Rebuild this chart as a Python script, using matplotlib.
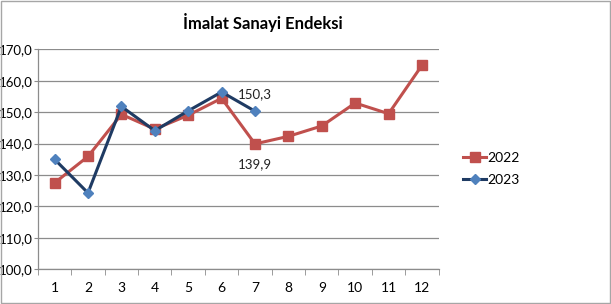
import matplotlib
matplotlib.use("Agg")
import matplotlib.pyplot as plt
from matplotlib.patches import Rectangle
from matplotlib.ticker import FuncFormatter, FixedLocator

months = list(range(1, 13))
values_2022 = [127.5, 135.9, 149.3, 144.6, 149.0, 154.4, 139.9, 142.3, 145.6, 152.9, 149.5, 164.9]
months_2023 = list(range(1, 8))
values_2023 = [135.0, 124.3, 151.8, 144.1, 150.4, 156.4, 150.3]
title = "İmalat Sanayi Endeksi"

plt.rcParams["font.family"] = ["Lato", "DejaVu Sans"]

red = "#C0504D"
navy = "#1F3B63"
blue = "#4F81BD"
grid = "#8C8C8C"

fig = plt.figure(figsize=(6.11, 3.04), dpi=100)
fig.patch.set_facecolor("white")
fig.patches.append(Rectangle((0.001, 0.002), 0.997, 0.995, transform=fig.transFigure,
                             fill=False, edgecolor="#A6A6A6", linewidth=1.0))
ax = fig.add_axes([0.062, 0.114, 0.656, 0.724])

ax.plot(months, values_2022, color=red, linewidth=2.2, marker="s", markersize=6.5,
        markerfacecolor=red, markeredgecolor=red, label="2022", zorder=3)
ax.plot(months_2023, values_2023, color=navy, linewidth=2.2, marker="D", markersize=5,
        markerfacecolor=blue, markeredgecolor=blue, label="2023", zorder=4)

ax.text(months_2023[-1], values_2023[-1] + 5.4, f"{values_2023[-1]:.1f}".replace(".", ","),
        ha="center", va="center", fontsize=9.5, color="#222222")
ax.text(months[6], values_2022[6] - 6.4, f"{values_2022[6]:.1f}".replace(".", ","),
        ha="center", va="center", fontsize=9.5, color="#222222")

ax.set_xlim(0.5, 12.5)
ax.set_ylim(100, 170)
ax.set_yticks(range(100, 171, 10))
ax.yaxis.set_major_formatter(FuncFormatter(lambda v, p: f"{v:.1f}".replace(".", ",")))
ax.set_xticks(months)
ax.xaxis.set_minor_locator(FixedLocator([m + 0.5 for m in range(0, 13)]))
ax.tick_params(axis="x", which="major", length=0, pad=9, labelsize=10)
ax.tick_params(axis="x", which="minor", length=4, color=grid, direction="out")
ax.tick_params(axis="y", length=3, color=grid, labelsize=9.5, pad=0.5)
ax.grid(axis="y", color=grid, linewidth=0.9)
ax.set_axisbelow(True)
for side in ("top", "right"):
    ax.spines[side].set_visible(False)
for side in ("left", "bottom"):
    ax.spines[side].set_color(grid)
    ax.spines[side].set_linewidth(0.9)

fig.text(0.43, 0.925, title, ha="center", va="center", fontsize=12, fontweight="bold")

ax.legend(loc="center left", bbox_to_anchor=(1.06, 0.456), frameon=False, fontsize=10,
          handlelength=1.7, handletextpad=0.1, labelspacing=0.75, borderpad=0,
          borderaxespad=0)

fig.savefig("out.png", dpi=100, facecolor="white")
